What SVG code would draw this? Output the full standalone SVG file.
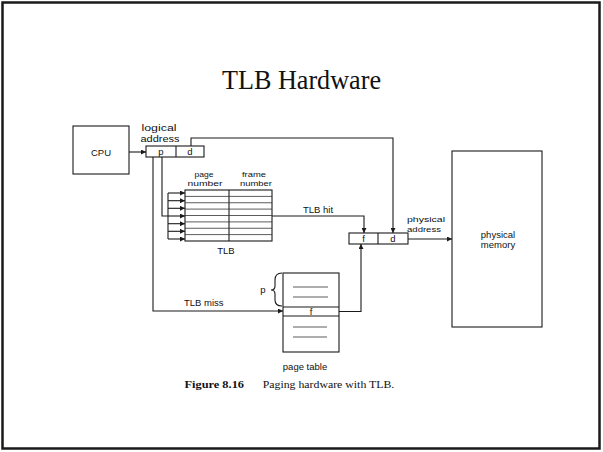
<svg xmlns="http://www.w3.org/2000/svg" width="603" height="452" viewBox="0 0 603 452">
<defs>
<marker id="ah" viewBox="0 0 10 10" refX="10" refY="5" markerWidth="5" markerHeight="5" markerUnits="userSpaceOnUse" orient="auto">
<path d="M0,0 L10,5 L0,10 z" fill="#1a1a1a"/>
</marker>
</defs>
<style>
.box{fill:#fff;stroke:#1a1a1a;stroke-width:1.1}
.ln{fill:none;stroke:#1a1a1a;stroke-width:1.1}
.thin{fill:none;stroke:#333;stroke-width:0.8}
.con{fill:none;stroke:#1a1a1a;stroke-width:1.1}
.arr{marker-end:url(#ah)}
.lbl{font-family:"Liberation Sans",Arial,sans-serif;font-size:9.5px;fill:#111}
.sm{font-size:8px}
.mid{text-anchor:middle}
</style>
<rect x="0" y="0" width="603" height="452" fill="#fff"/>
<rect x="2.5" y="2.5" width="597" height="446" fill="none" stroke="#1a1a1a" stroke-width="2.5"/>
<text x="301.5" y="89.3" text-anchor="middle" font-family="'Liberation Serif','Times New Roman',serif" font-size="28" textLength="159" lengthAdjust="spacingAndGlyphs" fill="#111">TLB Hardware</text>

<g id="cpu">
<rect class="box" x="73" y="126" width="56" height="48"/>
<text class="lbl mid" x="101" y="155.5">CPU</text>
</g>

<g id="logical-address">
<text class="lbl mid" x="159" y="131" textLength="35" lengthAdjust="spacingAndGlyphs">logical</text>
<text class="lbl mid" x="160" y="142" textLength="39" lengthAdjust="spacingAndGlyphs">address</text>
<rect class="box" x="146" y="146" width="58" height="11"/>
<line class="ln" x1="176" y1="146" x2="176" y2="157"/>
<text class="lbl mid" x="161" y="155">p</text>
<text class="lbl mid" x="190" y="155">d</text>
</g>

<g id="tlb">
<text class="lbl sm mid" x="204" y="176.5" textLength="19" lengthAdjust="spacingAndGlyphs">page</text>
<text class="lbl sm mid" x="205" y="186" textLength="35" lengthAdjust="spacingAndGlyphs">number</text>
<text class="lbl sm mid" x="254" y="176.5" textLength="24" lengthAdjust="spacingAndGlyphs">frame</text>
<text class="lbl sm mid" x="256" y="186" textLength="32" lengthAdjust="spacingAndGlyphs">number</text>
<rect class="box" x="185" y="190" width="87" height="51"/>
<line class="ln" x1="229" y1="190" x2="229" y2="241"/>
<g class="thin">
<line x1="185" y1="196.4" x2="272" y2="196.4"/>
<line x1="185" y1="202.75" x2="272" y2="202.75"/>
<line x1="185" y1="209.1" x2="272" y2="209.1"/>
<line x1="185" y1="215.5" x2="272" y2="215.5"/>
<line x1="185" y1="221.9" x2="272" y2="221.9"/>
<line x1="185" y1="228.25" x2="272" y2="228.25"/>
<line x1="185" y1="234.6" x2="272" y2="234.6"/>
</g>
<text class="lbl mid" x="226" y="253.5">TLB</text>
</g>

<g id="physical-address">
<text class="lbl sm" x="407" y="222" textLength="38" lengthAdjust="spacingAndGlyphs">physical</text>
<text class="lbl sm" x="407" y="231.5" textLength="34" lengthAdjust="spacingAndGlyphs">address</text>
<rect class="box" x="349" y="233" width="59" height="11"/>
<line class="ln" x1="378" y1="233" x2="378" y2="244"/>
<text class="lbl mid" x="363.5" y="242">f</text>
<text class="lbl mid" x="393" y="242">d</text>
</g>

<g id="physical-memory">
<rect class="box" x="452" y="151" width="90" height="176" stroke-width="1.3"/>
<text class="lbl mid" x="498" y="238">physical</text>
<text class="lbl mid" x="498" y="248">memory</text>
</g>

<g id="page-table">
<rect class="box" x="283" y="273" width="56" height="79"/>
<line class="ln" x1="283" y1="307" x2="339" y2="307"/>
<line class="ln" x1="283" y1="316" x2="339" y2="316"/>
<g class="thin">
<line x1="293" y1="287" x2="328" y2="287"/>
<line x1="293" y1="297" x2="328" y2="297"/>
<line x1="293" y1="327" x2="327" y2="327"/>
<line x1="293" y1="337" x2="327" y2="337"/>
</g>
<text class="lbl mid" x="311" y="314.5">f</text>
<path class="ln" d="M282,273 Q275,273 275,280 L275,286 Q275,290 271,290 Q275,290 275,294 L275,300 Q275,306 282,306"/>
<text class="lbl mid" x="263" y="293">p</text>
<text class="lbl mid" x="305" y="369.5">page table</text>
</g>

<g id="connectors">
<line class="con arr" x1="129" y1="152" x2="146" y2="152"/>
<polyline class="con arr" points="191,146 191,138 393,138 393,233"/>
<polyline class="con" points="162,157 162,216 168,216"/>
<line class="con" x1="168" y1="193" x2="168" y2="239"/>
<line class="con arr" x1="168" y1="193" x2="185" y2="193"/>
<line class="con arr" x1="168" y1="200.7" x2="185" y2="200.7"/>
<line class="con arr" x1="168" y1="208.3" x2="185" y2="208.3"/>
<line class="con arr" x1="168" y1="216" x2="185" y2="216"/>
<line class="con arr" x1="168" y1="223.7" x2="185" y2="223.7"/>
<line class="con arr" x1="168" y1="231.3" x2="185" y2="231.3"/>
<line class="con arr" x1="168" y1="239" x2="185" y2="239"/>
<polyline class="con arr" points="272,216 364,216 364,233"/>
<text class="lbl" x="303" y="212.5">TLB hit</text>
<polyline class="con arr" points="153,157 153,311 283,311"/>
<text class="lbl" x="184" y="306">TLB miss</text>
<polyline class="con arr" points="339,311.5 361,311.5 361,244"/>
<line class="con arr" x1="408" y1="239" x2="452" y2="239"/>
</g>

<text x="184.5" y="388" font-family="'Liberation Serif','Times New Roman',serif" font-size="11" font-weight="bold" textLength="59.5" lengthAdjust="spacingAndGlyphs" fill="#111">Figure 8.16</text>
<text x="262.7" y="388" font-family="'Liberation Serif','Times New Roman',serif" font-size="11" textLength="131.6" lengthAdjust="spacingAndGlyphs" fill="#111">Paging hardware with TLB.</text>
</svg>
